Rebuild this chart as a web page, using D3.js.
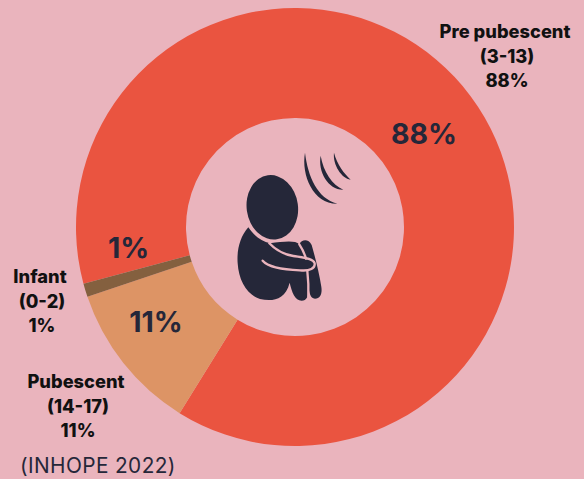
<!DOCTYPE html>
<html>
<head>
<meta charset="utf-8">
<script src="https://cdn.jsdelivr.net/npm/d3@7"></script>
<style>
  html, body { margin: 0; padding: 0; background: #eab4bd; overflow: hidden; }
  text { font-family: Inter, "Noto Sans", sans-serif; }
</style>
</head>
<body>
<div id="chart-area"></div>
<script>
// Data
const groups = ['Pre pubescent', 'Pubescent', 'Infant'];
const ages = ['(3-13)', '(14-17)', '(0-2)'];
const shares = [88, 11, 1];
const source = '(INHOPE 2022)';

const sliceColors = ['#ea5440', '#dd9465', '#84603f'];
const ink = '#252739';
const bg = '#eab4bd';

const width = 584;
const height = 479;
const cx = 295;
const cy = 227;

const svg = d3.select('#chart-area')
  .append('svg')
  .attr('width', width)
  .attr('height', height)
  .style('display', 'block');

svg.append('rect')
  .attr('width', width)
  .attr('height', height)
  .attr('fill', bg);

// Donut, rotated so the first slice starts just above 9 o'clock
const color = d3.scaleOrdinal().domain(groups).range(sliceColors);
const startAngle = 255 * Math.PI / 180;
const pie = d3.pie()
  .sort(null)
  .value(d => d.share)
  .startAngle(startAngle)
  .endAngle(startAngle + 2 * Math.PI);
const arc = d3.arc().innerRadius(109).outerRadius(219);

const slices = groups.map((name, i) => ({name, age: ages[i], share: shares[i]}));

const g = svg.append('g')
  .attr('transform', `translate(${cx}, ${cy})`);

g.selectAll('path')
  .data(pie(slices))
  .enter()
  .append('path')
  .attr('d', arc)
  .attr('fill', d => color(d.data.name));

// Percent labels on the ring
const ringLabels = [
  {text: shares[0] + '%', x: 424, y: 143.5},
  {text: shares[1] + '%', x: 156, y: 332},
  {text: shares[2] + '%', x: 128.5, y: 258}
];
svg.selectAll('.ring-label')
  .data(ringLabels)
  .enter()
  .append('text')
  .attr('class', 'ring-label')
  .attr('x', d => d.x)
  .attr('y', d => d.y)
  .attr('text-anchor', 'middle')
  .attr('font-size', 28.5)
  .attr('font-weight', 700)
  .attr('fill', ink)
  .text(d => d.text);

// Outside labels
const outerLabels = [
  {i: 0, x: 505, y: 38},
  {i: 1, x: 76, y: 388},
  {i: 2, x: 40, y: 283}
];
const lineGap = 24.5;
outerLabels.forEach(l => {
  const lines = [groups[l.i], ages[l.i], shares[l.i] + '%'];
  svg.append('text')
    .attr('text-anchor', 'middle')
    .attr('font-size', 18.3)
    .attr('font-weight', 800)
    .attr('fill', '#111')
    .selectAll('tspan')
    .data(lines)
    .enter()
    .append('tspan')
    .attr('x', (d, j) => j === 0 ? l.x : l.x + 2)
    .attr('y', (d, j) => l.y + j * lineGap)
    .text(d => d);
});

svg.append('text')
  .attr('x', 20)
  .attr('y', 473)
  .attr('font-size', 20.8)
  .attr('letter-spacing', 0.4)
  .attr('fill', ink)
  .text(source);

// Centre icon, traced in a 3x space
const icon = svg.append('g')
  .attr('transform', 'translate(200, 130) scale(0.3333)');

icon.append('path')
  .attr('d', 'M145 292 C120 320 110 360 113 400 C116 450 140 495 180 507 C215 515 255 512 269 458 C275 485 285 512 305 512 C322 512 327 495 325 470 C328 485 330 505 345 506 C362 506 367 490 364 470 C358 430 345 380 335 345 C325 325 305 328 298 343 C285 330 250 335 210 340 C185 335 160 315 145 292 Z')
  .attr('fill', ink);

// Head sits on the body with a thin gap round it
icon.append('ellipse')
  .attr('cx', 217)
  .attr('cy', 232)
  .attr('rx', 77)
  .attr('ry', 97)
  .attr('transform', 'rotate(-8 217 232)')
  .attr('fill', ink)
  .attr('stroke', bg)
  .attr('stroke-width', 10)
  .attr('paint-order', 'stroke');

// Pink gaps round the arm and between the legs
const gaps = [
  'M188 392 C205 412 245 418 300 421 C330 424 346 415 344 400 C340 385 310 383 280 378 C250 373 225 358 208 340',
  'M298 343 C308 358 314 372 318 386',
  'M322 423 C325 450 326 475 325 500'
];
icon.selectAll('.gap')
  .data(gaps)
  .enter()
  .append('path')
  .attr('class', 'gap')
  .attr('d', d => d)
  .attr('fill', 'none')
  .attr('stroke', bg)
  .attr('stroke-width', 7)
  .attr('stroke-linecap', 'round');

// Sound waves
const waves = [
  'M315 68 C303 135 340 222 412 221 C352 205 324 140 315 68 Z',
  'M362 77 C353 125 385 180 430 179 C397 165 370 125 362 77 Z',
  'M402 68 C398 105 425 145 452 149 C432 130 412 105 402 68 Z'
];
icon.selectAll('.wave')
  .data(waves)
  .enter()
  .append('path')
  .attr('class', 'wave')
  .attr('d', d => d)
  .attr('fill', ink);
</script>
</body>
</html>
